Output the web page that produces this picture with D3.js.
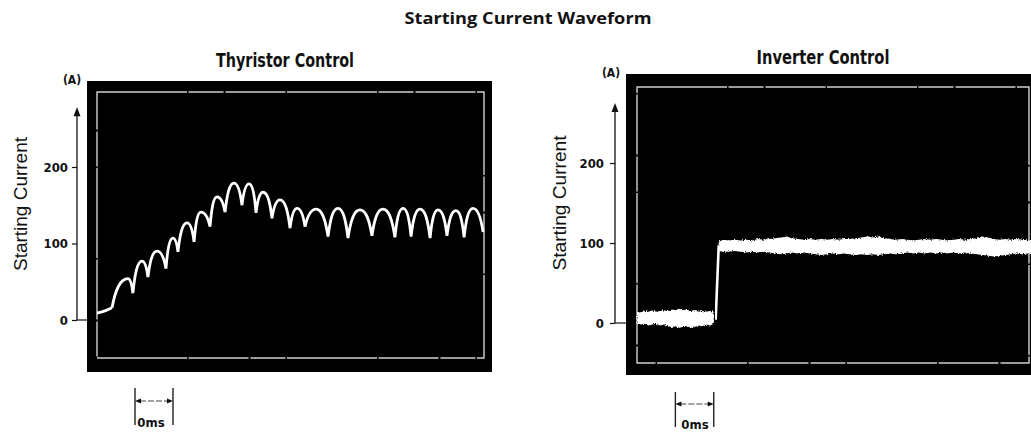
<!DOCTYPE html>
<html><head><meta charset="utf-8">
<script src="https://cdn.jsdelivr.net/npm/d3@7"></script>
<style>body{margin:0;background:#fff}svg{display:block}</style>
</head><body>
<svg id="c" width="1031" height="433"></svg>
<script>
// ---------- text ----------
const mainTitle = "Starting Current Waveform";
const panelTitles = ["Thyristor Control", "Inverter Control"];
const yLabel = "Starting Current";
const unitLabel = "(A)";
const yTicks = [0, 100, 200];
const yArrowTop = [278, 275];
const scaleBarMs = [20, 40];
const scaleBarLabel = "0ms";

// ---------- thyristor control (time ms, current A) ----------
const thyLeadT = [0, 4.2, 7.9];
const thyLeadA = [9, 12, 16];
const thyCuspT = [7.9, 18.9, 26.8, 36.3, 42.6, 51.1, 59.5, 67.4, 76.3, 83.7, 92.1, 101.6, 109.5, 121.6, 132.1, 144.7, 156.8, 165.3, 175.3, 184.2, 193.2, 203.2];
const thyCuspA = [16, 35, 56, 67, 89, 102, 122, 141, 150, 140, 133, 120, 122, 109, 107, 110, 108, 109, 107, 110, 108, 115];
const thyPeakT = [16.3, 23.7, 31.6, 40.0, 47.4, 54.7, 63.2, 72.1, 80.0, 87.4, 96.3, 105.3, 115.3, 126.8, 138.4, 150.5, 161.1, 170.0, 179.5, 188.9, 197.9];
const thyPeakA = [54, 77, 90, 107, 127, 141, 161, 179, 178, 167, 157, 146, 145, 146, 144, 145, 146, 145, 144, 143, 146];

// ---------- inverter control ----------
const invLowT = [0,2,4,6,8,10,12,14,16,18,20,22,24,26,28,30,32,34,36,38,40];
const invLowUp = [14,13,15,14,16,14,15,16,15,17,16,18,16,17,15,16,14,15,14,15,14];
const invLowLo = [0,-2,-1,-3,-2,-1,-3,-2,-4,-5,-4,-6,-5,-4,-6,-5,-3,-4,-2,-3,-1];
const invStepT = [41, 42.6];
const invStepA = [4, 97];
const invHighT = [42.6,45,48,51,54,57,60,63,66,69,72,75,78,81,84,87,90,93,96,99,102,105,108,111,114,117,120,123,126,129,132,135,138,141,144,147,150,153,156,159,162,165,168,171,174,177,180,183,186,189,192,195,198,201,204,206];
const invHighUp = [102,104,103,104,103,104,103,105,104,105,106,107,108,106,105,104,105,104,105,104,105,104,105,105,106,107,108,107,108,106,105,104,105,104,103,104,105,104,105,104,103,104,105,104,105,106,108,107,105,104,105,104,105,104,103,104];
const invHighLo = [90,89,89,90,89,88,89,88,89,88,87,86,87,88,87,88,87,86,85,86,87,86,87,86,85,86,85,86,85,86,87,86,87,88,87,88,87,88,87,88,87,88,87,88,87,86,85,84,83,84,85,86,87,86,87,86];

// ---------- layout ----------
const svg = d3.select("#c");
const condensed = "'Liberation Sans Narrow','DejaVu Sans Condensed','Arial Narrow',sans-serif";
const plain = "'Liberation Sans',Arial,sans-serif";

const defs = svg.append("defs");
const f = defs.append("filter").attr("id","rough").attr("x","-5%").attr("y","-50%").attr("width","110%").attr("height","200%");
f.append("feTurbulence").attr("type","fractalNoise").attr("baseFrequency","0.9 0.6").attr("numOctaves",2).attr("seed",3).attr("result","n");
f.append("feDisplacementMap").attr("in","SourceGraphic").attr("in2","n").attr("scale",3.5).attr("xChannelSelector","R").attr("yChannelSelector","G");
const g2 = defs.append("filter").attr("id","glow");
g2.append("feGaussianBlur").attr("stdDeviation",0.4);

svg.append("text").attr("x",528).attr("y",24).attr("text-anchor","middle")
  .attr("font-family","'Open Sans',Lato,sans-serif").attr("font-weight","bold").attr("font-size",16)
  .attr("textLength",247).attr("lengthAdjust","spacingAndGlyphs").attr("fill","#111").text(mainTitle);

const panels = [
  {box:[87,492,81,372], frame:[97,484,92,358], axisX:77, xr:[97,484.6], yr:[320,167],
   title:[285,67,138], unit:[72,84], label:[21,204,134], bar:[388,425,401], barText:[151,427]},
  {box:[626,1045,74,375], frame:[637,1029,87,363], axisX:615, xr:[637,1028.4], yr:[323,163],
   title:[823,64,133], unit:[611,77], label:[560,203,135], bar:[392,427,404], barText:[695,429]}
];

panels.forEach((p, i) => {
  const x = d3.scaleLinear().domain([0, 204]).range(p.xr);
  const y = d3.scaleLinear().domain([0, 200]).range(p.yr);
  const g = svg.append("g");

  // box
  g.append("rect").attr("x",p.box[0]).attr("y",p.box[2]).attr("width",p.box[1]-p.box[0]).attr("height",p.box[3]-p.box[2]).attr("fill","#000");
  g.append("rect").attr("x",p.frame[0]).attr("y",p.frame[2]).attr("width",p.frame[1]-p.frame[0]).attr("height",p.frame[3]-p.frame[2])
    .attr("fill","none").attr("stroke","#d0d0d0").attr("stroke-width",1.4).attr("stroke-dasharray","90,1.5,35,2,60,1.5");

  // title
  g.append("text").attr("x",p.title[0]).attr("y",p.title[1]).attr("text-anchor","middle")
    .attr("font-family",condensed).attr("font-weight","bold").attr("font-size",19)
    .attr("textLength",p.title[2]).attr("lengthAdjust","spacingAndGlyphs").attr("fill","#111").text(panelTitles[i]);

  // y label
  g.append("text").attr("transform",`translate(${p.label[0]},${p.label[1]}) rotate(-90)`).attr("text-anchor","middle")
    .attr("dy","0.35em").attr("font-family",plain).attr("font-size",18)
    .attr("textLength",p.label[2]).attr("lengthAdjust","spacingAndGlyphs").attr("fill","#111").text(yLabel);

  // unit
  g.append("text").attr("x",p.unit[0]).attr("y",p.unit[1]).attr("text-anchor","middle")
    .attr("font-family",condensed).attr("font-weight","bold").attr("font-size",12).attr("fill","#111").text(unitLabel);

  // axis
  const ax = g.append("g").attr("transform",`translate(${p.axisX},0)`)
    .call(d3.axisLeft(y).tickValues(yTicks).tickSize(5).tickPadding(i===0?4:6).tickFormat(d3.format("d")));
  ax.select(".domain").remove();
  ax.selectAll(".tick line").attr("stroke","#111").attr("stroke-width",1.2);
  ax.selectAll(".tick text").attr("font-family",condensed).attr("font-weight","bold").attr("font-size",13).attr("fill","#111");
  g.append("line").attr("x1",p.axisX).attr("x2",p.axisX).attr("y1",y(0)).attr("y2",y(yArrowTop[i])+6)
    .attr("stroke","#111").attr("stroke-width",1.3);
  const ty = y(yArrowTop[i]);
  g.append("path").attr("d",`M${p.axisX},${ty} L${p.axisX-3.5},${ty+9} L${p.axisX+3.5},${ty+9} Z`).attr("fill","#111");
  g.append("line").attr("x1",p.axisX).attr("x2",p.box[0]).attr("y1",y(0)).attr("y2",y(0)).attr("stroke","#111").attr("stroke-width",1.2);

  // scale bar
  const b0 = x(scaleBarMs[0]), b1 = x(scaleBarMs[1]);
  [b0,b1].forEach(bx => g.append("line").attr("x1",bx).attr("x2",bx).attr("y1",p.bar[0]).attr("y2",p.bar[1]).attr("stroke","#222").attr("stroke-width",1.4));
  g.append("line").attr("x1",b0+5).attr("x2",b1-5).attr("y1",p.bar[2]).attr("y2",p.bar[2]).attr("stroke","#444").attr("stroke-width",1).attr("stroke-dasharray","6,2");
  g.append("path").attr("d",`M${b0},${p.bar[2]} l6,-2.5 v5 Z M${b1},${p.bar[2]} l-6,-2.5 v5 Z`).attr("fill","#111");
  g.append("text").attr("x",p.barText[0]).attr("y",p.barText[1]).attr("text-anchor","middle")
    .attr("font-family",condensed).attr("font-weight","bold").attr("font-size",13).attr("fill","#111").text(scaleBarLabel);

  const trace = g.append("g").attr("filter","url(#glow)");
  if (i === 0) {
    const lead = thyLeadT.map((t,k)=>[t,thyLeadA[k]]);
    trace.append("path").attr("d", d3.line().x(d=>x(d[0])).y(d=>y(d[1])).curve(d3.curveMonotoneX)(lead))
      .attr("fill","none").attr("stroke","#fff").attr("stroke-width",2.8);
    // each half-cycle arch: steep from the cusps, rounded at the crest
    const pth = d3.path();
    for (let k = 0; k < thyPeakT.length; k++) {
      const ax0 = x(thyCuspT[k]), ay0 = y(thyCuspA[k]);
      const px = x(thyPeakT[k]), py = y(thyPeakA[k]);
      const ax1 = x(thyCuspT[k+1]), ay1 = y(thyCuspA[k+1]);
      pth.moveTo(ax0, ay0);
      pth.bezierCurveTo(ax0 + 0.22*(px-ax0), ay0 + 0.62*(py-ay0), px - 0.5*(px-ax0), py, px, py);
      pth.bezierCurveTo(px + 0.5*(ax1-px), py, ax1 - 0.22*(ax1-px), ay1 + 0.62*(py-ay1), ax1, ay1);
    }
    trace.append("path").attr("d", pth.toString())
      .attr("fill","none").attr("stroke","#fff").attr("stroke-width",2.8).attr("stroke-linejoin","round");
  } else {
    const area = d3.area().x(d=>x(d[0])).y0(d=>y(d[2])).y1(d=>y(d[1]));
    const low = invLowT.map((t,k)=>[t,invLowUp[k],invLowLo[k]]);
    const high = invHighT.map((t,k)=>[t,invHighUp[k],invHighLo[k]]);
    const rough = g.append("g").attr("filter","url(#rough)");
    rough.append("path").attr("d",area(low)).attr("fill","#fff");
    rough.append("path").attr("d",area(high)).attr("fill","#fff");
    trace.append("path").attr("d", d3.line().x(d=>x(d[0])).y(d=>y(d[1]))(invStepT.map((t,k)=>[t,invStepA[k]])))
      .attr("fill","none").attr("stroke","#fff").attr("stroke-width",2.6);
  }
});
</script>
</body></html>
